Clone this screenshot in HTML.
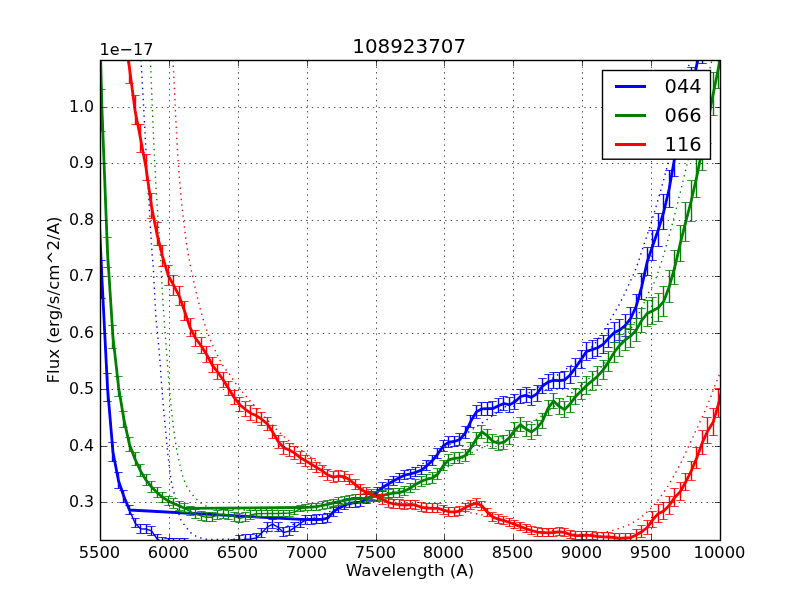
<!DOCTYPE html>
<html lang="en"><head><meta charset="utf-8"><title>108923707</title>
<style>
html,body{margin:0;padding:0;background:#fff;}
body{width:800px;height:600px;overflow:hidden;}
svg{display:block;}
text{font-family:"DejaVu Sans","Liberation Sans",sans-serif;fill:#000;}
.t{font-size:16.67px;}
.big{font-size:19.9px;}.leg{font-size:19.44px;}
.grid{stroke:#000;stroke-width:0.7;stroke-dasharray:1.39 4.17;fill:none;}
.tick{stroke:#000;stroke-width:0.7;fill:none;}
.thin{fill:none;stroke-width:1.39;stroke-linejoin:round;}
.bar{fill:none;stroke-width:1.39;}
.cap{fill:none;stroke-width:1;stroke-opacity:0.8;}
.thick{fill:none;stroke-width:2.78;stroke-linejoin:round;stroke-linecap:butt;}
.dot{fill:none;stroke-width:1.39;stroke-dasharray:1.39 4.17;}
.b{stroke:#0000ff;}.g{stroke:#008000;}.r{stroke:#ff0000;}
</style></head><body>
<svg width="800" height="600" viewBox="0 0 800 600">
<rect x="0" y="0" width="800" height="600" fill="#ffffff"/>
<defs><clipPath id="ax"><rect x="100.5" y="60.5" width="620.0" height="480.0"/></clipPath></defs>
<g clip-path="url(#ax)">
<path class="thin b" d="M96.5 161.4 L102.0 279.5 L107.5 387.6 L113.0 452.3 L118.5 480.8 L124.0 496.9 L129.5 510.2 L135.0 523.0 L140.5 528.7 L146.0 529.0 L151.5 530.8 L157.0 538.8 L162.5 542.2 L168.1 542.6 L173.6 542.7 L179.1 542.9 L184.6 543.0 L190.1 544.7 L195.6 546.5 L201.1 548.0 L206.6 548.0 L212.1 548.0 L217.6 548.0 L223.1 548.0 L228.6 546.5 L234.1 544.2 L239.6 540.3 L245.2 539.5 L250.7 539.0 L256.2 538.0 L261.7 533.0 L267.2 527.1 L272.7 524.1 L278.2 527.4 L283.7 532.5 L289.2 531.1 L294.7 527.4 L300.2 523.5 L305.7 519.6 L311.2 519.5 L316.7 519.5 L322.3 519.4 L327.8 518.0 L333.3 511.9 L338.8 508.2 L344.3 505.4 L349.8 503.3 L355.3 502.5 L360.8 502.1 L366.3 499.3 L371.8 495.9 L377.3 491.8 L382.8 487.3 L388.3 484.0 L393.8 480.7 L399.3 477.7 L404.9 475.1 L410.4 473.9 L415.9 472.3 L421.4 470.1 L426.9 465.8 L432.4 460.6 L437.9 453.8 L443.4 445.8 L448.9 442.2 L454.4 441.5 L459.9 439.5 L465.4 432.8 L470.9 421.1 L476.4 411.9 L482.0 408.8 L487.5 408.7 L493.0 408.5 L498.5 405.7 L504.0 403.5 L509.5 404.9 L515.0 401.7 L520.5 396.5 L526.0 395.4 L531.5 397.4 L537.0 393.7 L542.5 386.0 L548.0 382.1 L553.5 380.3 L559.1 380.7 L564.6 380.0 L570.1 374.9 L575.6 367.6 L581.1 359.4 L586.6 351.4 L592.1 349.6 L597.6 347.8 L603.1 344.4 L608.6 338.3 L614.1 332.7 L619.6 330.1 L625.1 325.7 L630.6 318.5 L636.1 306.5 L641.7 286.8 L647.2 261.7 L652.7 245.7 L658.2 230.0 L663.7 212.0 L669.2 188.8 L674.7 157.6 L680.2 134.5 L685.7 111.5 L691.2 88.4 L696.7 65.3 L702.2 41.9 L707.7 18.3 L713.2 -5.4 L718.8 -29.4 L724.3 -53.3 L729.8 -77.3"/>
<path class="bar b" d="M96.5 142.4V180.4M101.5 260.5V298.5M107.5 373.5V401.6M112.5 443.0V461.7M118.5 472.8V488.8M123.5 490.9V502.9M129.5 505.6V514.9M135.5 518.5V527.5M140.5 524.2V533.2M146.5 524.5V533.5M151.5 526.3V535.3M157.5 534.3V543.3M162.5 537.7V546.7M168.5 538.1V547.1M173.5 538.2V547.2M179.5 538.4V547.4M184.5 538.5V547.5M190.5 540.2V549.2M195.5 542.0V551.0M201.5 543.5V552.5M206.5 543.5V552.5M212.5 543.5V552.5M217.5 543.5V552.5M223.5 543.5V552.5M228.5 542.0V551.0M234.5 539.7V548.7M239.5 535.8V544.8M245.5 535.0V544.0M250.5 534.5V543.5M256.5 533.5V542.5M261.5 528.5V537.5M267.5 522.6V531.6M272.5 519.6V528.6M278.5 522.9V531.9M283.5 528.0V537.0M289.5 526.6V535.6M294.5 522.9V531.9M300.5 519.0V528.0M305.5 515.1V524.1M311.5 515.0V524.0M316.5 515.0V524.0M322.5 514.9V523.9M327.5 513.5V522.5M333.5 507.4V516.4M338.5 503.7V512.7M344.5 500.9V509.9M349.5 498.8V507.8M355.5 498.0V507.0M360.5 497.6V506.6M366.5 494.8V503.9M371.5 491.3V500.4M377.5 487.3V496.4M382.5 482.7V491.9M388.5 479.4V488.6M393.5 476.1V485.3M399.5 473.1V482.3M404.5 470.5V479.7M410.5 469.3V478.5M415.5 467.6V476.9M421.5 465.4V474.9M426.5 460.9V470.7M432.5 455.6V465.6M437.5 448.7V458.9M443.5 440.6V451.0M448.5 436.9V447.6M454.5 436.1V446.9M459.5 433.8V445.1M465.5 427.0V438.6M470.5 415.1V427.2M476.5 405.7V418.1M481.5 402.4V415.1M487.5 402.2V415.3M492.5 401.8V415.3M498.5 398.8V412.7M503.5 396.4V410.6M509.5 397.7V412.1M514.5 394.4V409.0M520.5 389.1V404.0M526.5 387.8V402.9M531.5 389.8V405.1M537.5 385.9V401.5M542.5 378.1V393.9M548.5 374.0V390.1M553.5 372.2V388.5M559.5 372.5V389.0M564.5 371.6V388.4M570.5 366.4V383.4M575.5 358.9V376.2M581.5 350.6V368.2M586.5 342.5V360.3M592.5 340.5V358.6M597.5 338.6V357.0M603.5 335.1V353.7M608.5 328.9V347.8M614.5 322.8V342.6M619.5 319.7V340.6M625.5 314.8V336.7M630.5 307.0V330.0M636.5 294.5V318.5M641.5 273.9V299.8M647.5 247.9V275.6M652.5 230.6V260.8M658.5 213.6V246.4M663.5 194.3V229.7M669.5 170.3V207.3M674.5 138.5V176.7M680.5 114.8V154.3M685.5 91.1V131.8M691.5 67.4V109.4M696.5 43.7V87.0M702.5 19.7V64.0M707.5 -4.1V40.6M713.5 -28.1V17.2M718.5 -52.3V-6.4M724.5 -76.5V-30.1M729.5 -100.7V-53.8"/>
<path class="cap b" d="M92.3 142.5h8.4M92.3 180.5h8.4M97.3 260.5h8.4M97.3 298.5h8.4M103.3 373.5h8.4M103.3 401.5h8.4M108.3 442.5h8.4M108.3 461.5h8.4M114.3 472.5h8.4M114.3 488.5h8.4M119.3 490.5h8.4M119.3 502.5h8.4M125.3 505.5h8.4M125.3 514.5h8.4M131.3 518.5h8.4M131.3 527.5h8.4M136.3 524.5h8.4M136.3 533.5h8.4M142.3 524.5h8.4M142.3 533.5h8.4M147.3 526.5h8.4M147.3 535.5h8.4M153.3 534.5h8.4M153.3 543.5h8.4M158.3 537.5h8.4M158.3 546.5h8.4M164.3 538.5h8.4M164.3 547.5h8.4M169.3 538.5h8.4M169.3 547.5h8.4M175.3 538.5h8.4M175.3 547.5h8.4M180.3 538.5h8.4M180.3 547.5h8.4M186.3 540.5h8.4M186.3 549.5h8.4M191.3 542.5h8.4M191.3 551.5h8.4M197.3 543.5h8.4M197.3 552.5h8.4M202.3 543.5h8.4M202.3 552.5h8.4M208.3 543.5h8.4M208.3 552.5h8.4M213.3 543.5h8.4M213.3 552.5h8.4M219.3 543.5h8.4M219.3 552.5h8.4M224.3 541.5h8.4M224.3 550.5h8.4M230.3 539.5h8.4M230.3 548.5h8.4M235.3 535.5h8.4M235.3 544.5h8.4M241.3 534.5h8.4M241.3 543.5h8.4M246.3 534.5h8.4M246.3 543.5h8.4M252.3 533.5h8.4M252.3 542.5h8.4M257.3 528.5h8.4M257.3 537.5h8.4M263.3 522.5h8.4M263.3 531.5h8.4M268.3 519.5h8.4M268.3 528.5h8.4M274.3 522.5h8.4M274.3 531.5h8.4M279.3 527.5h8.4M279.3 536.5h8.4M285.3 526.5h8.4M285.3 535.5h8.4M290.3 522.5h8.4M290.3 531.5h8.4M296.3 518.5h8.4M296.3 527.5h8.4M301.3 515.5h8.4M301.3 524.5h8.4M307.3 515.5h8.4M307.3 524.5h8.4M312.3 514.5h8.4M312.3 523.5h8.4M318.3 514.5h8.4M318.3 523.5h8.4M323.3 513.5h8.4M323.3 522.5h8.4M329.3 507.5h8.4M329.3 516.5h8.4M334.3 503.5h8.4M334.3 512.5h8.4M340.3 500.5h8.4M340.3 509.5h8.4M345.3 498.5h8.4M345.3 507.5h8.4M351.3 497.5h8.4M351.3 507.5h8.4M356.3 497.5h8.4M356.3 506.5h8.4M362.3 494.5h8.4M362.3 503.5h8.4M367.3 491.5h8.4M367.3 500.5h8.4M373.3 487.5h8.4M373.3 496.5h8.4M378.3 482.5h8.4M378.3 491.5h8.4M384.3 479.5h8.4M384.3 488.5h8.4M389.3 476.5h8.4M389.3 485.5h8.4M395.3 473.5h8.4M395.3 482.5h8.4M400.3 470.5h8.4M400.3 479.5h8.4M406.3 469.5h8.4M406.3 478.5h8.4M411.3 467.5h8.4M411.3 476.5h8.4M417.3 465.5h8.4M417.3 474.5h8.4M422.3 460.5h8.4M422.3 470.5h8.4M428.3 455.5h8.4M428.3 465.5h8.4M433.3 448.5h8.4M433.3 458.5h8.4M439.3 440.5h8.4M439.3 451.5h8.4M444.3 436.5h8.4M444.3 447.5h8.4M450.3 436.5h8.4M450.3 446.5h8.4M455.3 433.5h8.4M455.3 445.5h8.4M461.3 426.5h8.4M461.3 438.5h8.4M466.3 415.5h8.4M466.3 427.5h8.4M472.3 405.5h8.4M472.3 418.5h8.4M477.3 402.5h8.4M477.3 415.5h8.4M483.3 402.5h8.4M483.3 415.5h8.4M488.3 401.5h8.4M488.3 415.5h8.4M494.3 398.5h8.4M494.3 412.5h8.4M499.3 396.5h8.4M499.3 410.5h8.4M505.3 397.5h8.4M505.3 412.5h8.4M510.3 394.5h8.4M510.3 409.5h8.4M516.3 389.5h8.4M516.3 403.5h8.4M522.3 387.5h8.4M522.3 402.5h8.4M527.3 389.5h8.4M527.3 405.5h8.4M533.3 385.5h8.4M533.3 401.5h8.4M538.3 378.5h8.4M538.3 393.5h8.4M544.3 374.5h8.4M544.3 390.5h8.4M549.3 372.5h8.4M549.3 388.5h8.4M555.3 372.5h8.4M555.3 388.5h8.4M560.3 371.5h8.4M560.3 388.5h8.4M566.3 366.5h8.4M566.3 383.5h8.4M571.3 358.5h8.4M571.3 376.5h8.4M577.3 350.5h8.4M577.3 368.5h8.4M582.3 342.5h8.4M582.3 360.5h8.4M588.3 340.5h8.4M588.3 358.5h8.4M593.3 338.5h8.4M593.3 356.5h8.4M599.3 335.5h8.4M599.3 353.5h8.4M604.3 328.5h8.4M604.3 347.5h8.4M610.3 322.5h8.4M610.3 342.5h8.4M615.3 319.5h8.4M615.3 340.5h8.4M621.3 314.5h8.4M621.3 336.5h8.4M626.3 307.5h8.4M626.3 329.5h8.4M632.3 294.5h8.4M632.3 318.5h8.4M637.3 273.5h8.4M637.3 299.5h8.4M643.3 247.5h8.4M643.3 275.5h8.4M648.3 230.5h8.4M648.3 260.5h8.4M654.3 213.5h8.4M654.3 246.5h8.4M659.3 194.5h8.4M659.3 229.5h8.4M665.3 170.5h8.4M665.3 207.5h8.4M670.3 138.5h8.4M670.3 176.5h8.4M676.3 114.5h8.4M676.3 154.5h8.4M681.3 91.5h8.4M681.3 131.5h8.4M687.3 67.5h8.4M687.3 109.5h8.4M692.3 43.5h8.4M692.3 86.5h8.4M698.3 19.5h8.4M698.3 63.5h8.4M703.3 -4.5h8.4M703.3 40.5h8.4M709.3 -28.5h8.4M709.3 17.5h8.4M714.3 -52.5h8.4M714.3 -6.5h8.4M720.3 -76.5h8.4M720.3 -30.5h8.4M725.3 -100.5h8.4M725.3 -53.5h8.4"/>
<path class="thick b" d="M96.5 161.4 L102.0 279.5 L107.5 387.6 L113.0 452.3 L118.5 480.8 L124.0 496.9 L129.5 510.0 L305.7 519.6 L311.2 519.5 L316.7 519.5 L322.3 519.4 L327.8 518.0 L333.3 511.9 L338.8 508.2 L344.3 505.4 L349.8 503.3 L355.3 502.5 L360.8 502.1 L366.3 499.3 L371.8 495.9 L377.3 491.8 L382.8 487.3 L388.3 484.0 L393.8 480.7 L399.3 477.7 L404.9 475.1 L410.4 473.9 L415.9 472.3 L421.4 470.1 L426.9 465.8 L432.4 460.6 L437.9 453.8 L443.4 445.8 L448.9 442.2 L454.4 441.5 L459.9 439.5 L465.4 432.8 L470.9 421.1 L476.4 411.9 L482.0 408.8 L487.5 408.7 L493.0 408.5 L498.5 405.7 L504.0 403.5 L509.5 404.9 L515.0 401.7 L520.5 396.5 L526.0 395.4 L531.5 397.4 L537.0 393.7 L542.5 386.0 L548.0 382.1 L553.5 380.3 L559.1 380.7 L564.6 380.0 L570.1 374.9 L575.6 367.6 L581.1 359.4 L586.6 351.4 L592.1 349.6 L597.6 347.8 L603.1 344.4 L608.6 338.3 L614.1 332.7 L619.6 330.1 L625.1 325.7 L630.6 318.5 L636.1 306.5 L641.7 286.8 L647.2 261.7 L652.7 245.7 L658.2 230.0 L663.7 212.0 L669.2 188.8 L674.7 157.6 L680.2 134.5 L685.7 111.5 L691.2 88.4 L696.7 65.3 L702.2 41.9 L707.7 18.3 L713.2 -5.4 L718.8 -29.4 L724.3 -53.3 L729.8 -77.3"/>
<path class="dot b" d="M141.0 60.0 L142.4 84.9 L143.8 110.0 L145.1 134.9 L146.5 159.3 L147.9 183.4 L149.3 207.6 L150.6 230.8 L152.0 252.1 L153.4 269.5 L154.8 297.5 L156.1 320.1 L157.5 332.5 L158.9 348.1 L160.3 366.0 L161.6 385.3 L163.0 402.3 L164.4 418.0 L165.8 432.7 L167.1 446.4 L168.5 459.9 L169.9 472.3 L171.3 481.5 L172.6 487.7 L174.0 493.0 L175.4 498.9 L176.8 505.6 L178.2 511.2 L179.5 516.1 L180.9 519.8 L182.3 522.2 L183.7 524.0 L185.0 525.9 L186.4 527.6 L187.8 529.3 L189.2 531.1 L190.5 532.6 L191.9 533.7 L193.3 534.7 L194.7 535.5 L196.0 536.2 L197.4 536.8 L198.8 537.3 L200.2 537.8 L201.5 538.1 L202.9 538.4 L204.3 538.7 L205.7 539.0 L207.0 539.2 L208.4 539.3 L209.8 539.4 L211.2 539.4 L212.5 539.4 L213.9 539.4 L215.3 539.4 L216.7 539.4 L218.1 539.4 L219.4 539.3 L220.8 539.3 L222.2 539.3 L223.6 539.3 L224.9 539.3 L226.3 539.2 L227.7 539.2 L229.1 539.2 L230.4 539.2 L231.8 539.1 L233.2 539.1 L234.6 539.1 L235.9 539.0 L237.3 539.0 L238.7 538.9 L240.1 538.8 L241.4 538.7 L242.8 538.5 L244.2 538.3 L245.6 538.1 L246.9 537.8 L248.3 537.5 L249.7 537.2 L251.1 536.9 L252.5 536.6 L253.8 536.2 L255.2 535.9 L256.6 535.5 L258.0 535.1 L259.3 534.7 L260.7 534.3 L262.1 534.0 L263.5 533.6 L264.8 533.2 L266.2 532.8 L267.6 532.5 L269.0 532.1 L270.3 531.7 L271.7 531.4 L273.1 531.0 L274.5 530.6 L275.8 530.1 L277.2 529.7 L278.6 529.3 L280.0 528.8 L281.3 528.4 L282.7 527.9 L284.1 527.5 L285.5 527.0 L286.8 526.5 L288.2 526.0 L289.6 525.6 L291.0 525.1 L292.4 524.6 L293.7 524.1 L295.1 523.7 L296.5 523.2 L297.9 522.7 L299.2 522.3 L300.6 521.8 L302.0 521.3 L303.4 520.9 L304.7 520.4 L306.1 519.9 L307.5 519.5 L308.9 519.0 L310.2 518.5 L311.6 518.0 L313.0 517.5 L314.4 517.1 L315.7 516.6 L317.1 516.1 L318.5 515.6 L319.9 515.1 L321.2 514.6 L322.6 514.1 L324.0 513.7 L325.4 513.2 L326.8 512.7 L328.1 512.2 L329.5 511.7 L330.9 511.2 L332.3 510.7 L333.6 510.2 L335.0 509.8 L336.4 509.3 L337.8 508.8 L339.1 508.3 L340.5 507.8 L341.9 507.4 L343.3 506.9 L344.6 506.5 L346.0 506.0 L347.4 505.6 L348.8 505.1 L350.1 504.7 L351.5 504.2 L352.9 503.8 L354.3 503.3 L355.6 502.8 L357.0 502.2 L358.4 501.7 L359.8 501.1 L361.2 500.5 L362.5 499.8 L363.9 499.1 L365.3 498.3 L366.7 497.5 L368.0 496.7 L369.4 495.8 L370.8 494.9 L372.2 494.0 L373.5 493.1 L374.9 492.2 L376.3 491.3 L377.7 490.5 L379.0 489.6 L380.4 488.7 L381.8 487.9 L383.2 487.1 L384.5 486.3 L385.9 485.4 L387.3 484.6 L388.7 483.8 L390.0 482.9 L391.4 482.1 L392.8 481.3 L394.2 480.4 L395.5 479.5 L396.9 478.6 L398.3 477.7 L399.7 476.7 L401.1 475.7 L402.4 474.6 L403.8 473.5 L405.2 472.3 L406.6 471.2 L407.9 470.2 L409.3 469.3 L410.7 468.6 L412.1 467.9 L413.4 467.2 L414.8 466.7 L416.2 466.1 L417.6 465.6 L418.9 465.0 L420.3 464.5 L421.7 464.0 L423.1 463.4 L424.4 462.8 L425.8 462.2 L427.2 461.4 L428.6 460.7 L429.9 459.8 L431.3 458.8 L432.7 457.8 L434.1 456.8 L435.5 455.6 L436.8 454.5 L438.2 453.3 L439.6 452.1 L441.0 451.0 L442.3 449.8 L443.7 448.7 L445.1 447.7 L446.5 446.7 L447.8 445.7 L449.2 444.7 L450.6 443.8 L452.0 442.9 L453.3 441.9 L454.7 441.0 L456.1 440.1 L457.5 439.2 L458.8 438.3 L460.2 437.4 L461.6 436.5 L463.0 435.7 L464.3 434.8 L465.7 433.9 L467.1 433.0 L468.5 432.1 L469.8 431.1 L471.2 430.2 L472.6 429.3 L474.0 428.4 L475.4 427.5 L476.7 426.6 L478.1 425.6 L479.5 424.7 L480.9 423.8 L482.2 422.9 L483.6 421.9 L485.0 421.0 L486.4 420.1 L487.7 419.1 L489.1 418.1 L490.5 417.2 L491.9 416.2 L493.2 415.2 L494.6 414.2 L496.0 413.2 L497.4 412.2 L498.7 411.3 L500.1 410.3 L501.5 409.3 L502.9 408.4 L504.2 407.5 L505.6 406.6 L507.0 405.7 L508.4 404.8 L509.8 404.0 L511.1 403.1 L512.5 402.3 L513.9 401.5 L515.3 400.7 L516.6 399.9 L518.0 399.1 L519.4 398.3 L520.8 397.5 L522.1 396.7 L523.5 395.9 L524.9 395.1 L526.3 394.3 L527.6 393.6 L529.0 392.8 L530.4 392.0 L531.8 391.2 L533.1 390.4 L534.5 389.6 L535.9 388.8 L537.3 388.0 L538.6 387.2 L540.0 386.4 L541.4 385.5 L542.8 384.7 L544.2 383.8 L545.5 382.9 L546.9 382.1 L548.3 381.2 L549.7 380.2 L551.0 379.3 L552.4 378.4 L553.8 377.4 L555.2 376.5 L556.5 375.6 L557.9 374.7 L559.3 373.7 L560.7 372.8 L562.0 371.9 L563.4 370.9 L564.8 370.0 L566.2 369.0 L567.5 368.0 L568.9 367.0 L570.3 366.0 L571.7 365.0 L573.0 363.9 L574.4 362.9 L575.8 361.8 L577.2 360.7 L578.5 359.5 L579.9 358.4 L581.3 357.2 L582.7 356.0 L584.1 354.7 L585.4 353.5 L586.8 352.2 L588.2 350.8 L589.6 349.5 L590.9 348.0 L592.3 346.5 L593.7 344.9 L595.1 343.2 L596.4 341.4 L597.8 339.5 L599.2 337.6 L600.6 335.6 L601.9 333.6 L603.3 331.5 L604.7 329.5 L606.1 327.3 L607.4 325.0 L608.8 322.6 L610.2 320.2 L611.6 317.7 L612.9 315.4 L614.3 313.0 L615.7 310.7 L617.1 308.3 L618.5 305.9 L619.8 303.3 L621.2 300.7 L622.6 297.9 L624.0 295.0 L625.3 292.1 L626.7 289.1 L628.1 286.1 L629.5 283.1 L630.8 280.2 L632.2 277.2 L633.6 274.1 L635.0 270.9 L636.3 267.5 L637.7 263.8 L639.1 259.8 L640.5 255.5 L641.8 251.1 L643.2 246.8 L644.6 242.6 L646.0 238.6 L647.3 234.5 L648.7 230.4 L650.1 226.2 L651.5 221.8 L652.8 217.3 L654.2 212.8 L655.6 208.1 L657.0 203.4 L658.4 198.7 L659.7 193.9 L661.1 189.0 L662.5 184.0 L663.9 179.0 L665.2 173.9 L666.6 168.7 L668.0 163.3 L669.4 157.5 L670.7 151.6 L672.1 145.5 L673.5 139.3 L674.9 132.9 L676.2 126.5 L677.6 119.9 L679.0 113.3 L680.4 106.6 L681.7 99.9 L683.1 93.2 L684.5 86.4 L685.9 79.7 L687.2 73.1 L688.6 66.5 L690.0 60.0"/>
<path class="thin g" d="M96.5 -97.6 L102.0 110.0 L107.5 252.1 L113.0 337.1 L118.5 386.7 L124.0 419.9 L129.5 444.6 L135.0 459.0 L140.5 470.9 L146.0 480.0 L151.5 486.9 L157.0 492.5 L162.5 497.1 L168.1 500.9 L173.6 503.4 L179.1 505.8 L184.6 508.3 L190.1 511.3 L195.6 514.2 L201.1 515.8 L206.6 517.3 L212.1 517.2 L217.6 515.1 L223.1 514.2 L228.6 515.3 L234.1 516.7 L239.6 518.3 L245.2 517.1 L250.7 515.0 L256.2 513.7 L261.7 513.6 L267.2 513.5 L272.7 513.5 L278.2 513.5 L283.7 513.3 L289.2 513.1 L294.7 511.9 L300.2 508.9 L305.7 507.4 L311.2 507.2 L316.7 506.6 L322.3 505.5 L327.8 504.3 L333.3 502.9 L338.8 501.6 L344.3 500.4 L349.8 499.3 L355.3 498.7 L360.8 498.6 L366.3 498.2 L371.8 497.1 L377.3 496.0 L382.8 495.3 L388.3 494.2 L393.8 493.0 L399.3 492.6 L404.9 490.9 L410.4 488.0 L415.9 484.2 L421.4 481.3 L426.9 479.2 L432.4 478.0 L437.9 474.1 L443.4 465.6 L448.9 459.8 L454.4 458.4 L459.9 457.8 L465.4 455.4 L470.9 448.0 L476.4 438.8 L482.0 431.9 L487.5 435.9 L493.0 441.4 L498.5 443.3 L504.0 442.2 L509.5 437.6 L515.0 430.1 L520.5 424.6 L526.0 429.0 L531.5 432.0 L537.0 428.0 L542.5 421.2 L548.0 408.3 L553.5 401.0 L559.1 406.3 L564.6 409.6 L570.1 404.1 L575.6 396.4 L581.1 390.9 L586.6 385.4 L592.1 380.9 L597.6 376.2 L603.1 369.9 L608.6 361.9 L614.1 352.5 L619.6 345.4 L625.1 339.9 L630.6 336.1 L636.1 330.1 L641.7 320.5 L647.2 313.4 L652.7 310.7 L658.2 307.8 L663.7 301.4 L669.2 286.7 L674.7 267.5 L680.2 243.8 L685.7 222.0 L691.2 201.0 L696.7 177.0 L702.2 149.5 L707.7 121.8 L713.2 94.0 L718.8 66.3 L724.3 38.7 L729.8 11.2"/>
<path class="bar g" d="M96.5 -118.6V-76.6M101.5 89.0V131.0M107.5 237.0V267.2M112.5 325.4V348.9M118.5 376.9V396.4M123.5 411.9V427.9M129.5 437.5V451.7M135.5 452.5V465.5M140.5 464.9V476.8M146.5 474.3V485.7M151.5 481.5V492.3M157.5 487.4V497.7M162.5 492.2V502.1M168.5 496.1V505.8M173.5 498.7V508.1M179.5 501.2V510.5M184.5 503.8V512.8M190.5 506.8V515.8M195.5 509.7V518.7M201.5 511.3V520.3M206.5 512.8V521.8M212.5 512.7V521.7M217.5 510.6V519.6M223.5 509.7V518.7M228.5 510.8V519.8M234.5 512.2V521.2M239.5 513.8V522.8M245.5 512.6V521.6M250.5 510.6V519.3M256.5 510.4V517.0M261.5 510.6V516.6M267.5 510.5V516.5M272.5 510.5V516.5M278.5 510.5V516.5M283.5 510.3V516.3M289.5 510.1V516.1M294.5 508.9V514.9M300.5 505.9V512.0M305.5 504.2V510.5M311.5 503.9V510.4M316.5 503.2V510.1M322.5 501.9V509.0M327.5 500.6V508.0M333.5 499.1V506.8M338.5 497.6V505.5M344.5 496.4V504.4M349.5 495.2V503.4M355.5 494.5V502.8M360.5 494.4V502.8M366.5 494.0V502.5M371.5 492.8V501.5M377.5 491.7V500.4M382.5 490.9V499.7M388.5 489.7V498.7M393.5 488.4V497.5M399.5 488.0V497.2M404.5 486.2V495.6M410.5 483.3V492.8M415.5 479.4V489.0M421.5 476.4V486.2M426.5 474.2V484.2M432.5 472.9V483.1M437.5 469.0V479.3M443.5 460.4V470.9M448.5 454.5V465.2M454.5 453.0V463.9M459.5 452.2V463.5M465.5 449.5V461.2M470.5 442.0V454.0M476.5 432.6V445.0M481.5 425.5V438.3M487.5 429.3V442.5M492.5 434.7V448.2M498.5 436.4V450.2M503.5 435.1V449.2M509.5 430.4V444.7M514.5 422.8V437.3M520.5 417.3V431.9M526.5 421.7V436.4M531.5 424.5V439.4M537.5 420.4V435.5M542.5 413.6V428.8M548.5 400.6V416.0M553.5 393.3V408.8M559.5 398.5V414.2M564.5 401.7V417.6M570.5 396.1V412.1M575.5 388.1V404.7M581.5 382.3V399.5M586.5 376.5V394.3M592.5 371.7V390.1M597.5 366.7V385.7M603.5 360.1V379.6M608.5 351.9V371.9M614.5 342.2V362.9M619.5 334.7V356.0M625.5 328.9V350.9M630.5 324.8V347.4M636.5 318.3V341.8M641.5 308.2V332.8M647.5 300.5V326.3M652.5 297.2V324.1M658.5 293.8V321.8M663.5 286.3V316.4M669.5 270.6V302.8M674.5 250.4V284.6M680.5 225.6V261.9M685.5 202.8V241.2M691.5 180.9V221.1M696.5 156.4V197.5M702.5 128.6V170.5M707.5 100.4V143.2M713.5 72.2V115.9M718.5 44.0V88.6M724.5 16.0V61.4M729.5 -12.0V34.3"/>
<path class="cap g" d="M92.3 -118.5h8.4M92.3 -76.5h8.4M97.3 89.5h8.4M97.3 131.5h8.4M103.3 237.5h8.4M103.3 267.5h8.4M108.3 325.5h8.4M108.3 348.5h8.4M114.3 376.5h8.4M114.3 396.5h8.4M119.3 411.5h8.4M119.3 427.5h8.4M125.3 437.5h8.4M125.3 451.5h8.4M131.3 452.5h8.4M131.3 465.5h8.4M136.3 464.5h8.4M136.3 476.5h8.4M142.3 474.5h8.4M142.3 485.5h8.4M147.3 481.5h8.4M147.3 492.5h8.4M153.3 487.5h8.4M153.3 497.5h8.4M158.3 492.5h8.4M158.3 502.5h8.4M164.3 496.5h8.4M164.3 505.5h8.4M169.3 498.5h8.4M169.3 508.5h8.4M175.3 501.5h8.4M175.3 510.5h8.4M180.3 503.5h8.4M180.3 512.5h8.4M186.3 506.5h8.4M186.3 515.5h8.4M191.3 509.5h8.4M191.3 518.5h8.4M197.3 511.5h8.4M197.3 520.5h8.4M202.3 512.5h8.4M202.3 521.5h8.4M208.3 512.5h8.4M208.3 521.5h8.4M213.3 510.5h8.4M213.3 519.5h8.4M219.3 509.5h8.4M219.3 518.5h8.4M224.3 510.5h8.4M224.3 519.5h8.4M230.3 512.5h8.4M230.3 521.5h8.4M235.3 513.5h8.4M235.3 522.5h8.4M241.3 512.5h8.4M241.3 521.5h8.4M246.3 510.5h8.4M246.3 519.5h8.4M252.3 510.5h8.4M252.3 517.5h8.4M257.3 510.5h8.4M257.3 516.5h8.4M263.3 510.5h8.4M263.3 516.5h8.4M268.3 510.5h8.4M268.3 516.5h8.4M274.3 510.5h8.4M274.3 516.5h8.4M279.3 510.5h8.4M279.3 516.5h8.4M285.3 510.5h8.4M285.3 516.5h8.4M290.3 508.5h8.4M290.3 514.5h8.4M296.3 505.5h8.4M296.3 511.5h8.4M301.3 504.5h8.4M301.3 510.5h8.4M307.3 503.5h8.4M307.3 510.5h8.4M312.3 503.5h8.4M312.3 510.5h8.4M318.3 501.5h8.4M318.3 509.5h8.4M323.3 500.5h8.4M323.3 508.5h8.4M329.3 499.5h8.4M329.3 506.5h8.4M334.3 497.5h8.4M334.3 505.5h8.4M340.3 496.5h8.4M340.3 504.5h8.4M345.3 495.5h8.4M345.3 503.5h8.4M351.3 494.5h8.4M351.3 502.5h8.4M356.3 494.5h8.4M356.3 502.5h8.4M362.3 493.5h8.4M362.3 502.5h8.4M367.3 492.5h8.4M367.3 501.5h8.4M373.3 491.5h8.4M373.3 500.5h8.4M378.3 490.5h8.4M378.3 499.5h8.4M384.3 489.5h8.4M384.3 498.5h8.4M389.3 488.5h8.4M389.3 497.5h8.4M395.3 488.5h8.4M395.3 497.5h8.4M400.3 486.5h8.4M400.3 495.5h8.4M406.3 483.5h8.4M406.3 492.5h8.4M411.3 479.5h8.4M411.3 489.5h8.4M417.3 476.5h8.4M417.3 486.5h8.4M422.3 474.5h8.4M422.3 484.5h8.4M428.3 472.5h8.4M428.3 483.5h8.4M433.3 468.5h8.4M433.3 479.5h8.4M439.3 460.5h8.4M439.3 470.5h8.4M444.3 454.5h8.4M444.3 465.5h8.4M450.3 452.5h8.4M450.3 463.5h8.4M455.3 452.5h8.4M455.3 463.5h8.4M461.3 449.5h8.4M461.3 461.5h8.4M466.3 442.5h8.4M466.3 454.5h8.4M472.3 432.5h8.4M472.3 445.5h8.4M477.3 425.5h8.4M477.3 438.5h8.4M483.3 429.5h8.4M483.3 442.5h8.4M488.3 434.5h8.4M488.3 448.5h8.4M494.3 436.5h8.4M494.3 450.5h8.4M499.3 435.5h8.4M499.3 449.5h8.4M505.3 430.5h8.4M505.3 444.5h8.4M510.3 422.5h8.4M510.3 437.5h8.4M516.3 417.5h8.4M516.3 431.5h8.4M522.3 421.5h8.4M522.3 436.5h8.4M527.3 424.5h8.4M527.3 439.5h8.4M533.3 420.5h8.4M533.3 435.5h8.4M538.3 413.5h8.4M538.3 428.5h8.4M544.3 400.5h8.4M544.3 415.5h8.4M549.3 393.5h8.4M549.3 408.5h8.4M555.3 398.5h8.4M555.3 414.5h8.4M560.3 401.5h8.4M560.3 417.5h8.4M566.3 396.5h8.4M566.3 412.5h8.4M571.3 388.5h8.4M571.3 404.5h8.4M577.3 382.5h8.4M577.3 399.5h8.4M582.3 376.5h8.4M582.3 394.5h8.4M588.3 371.5h8.4M588.3 390.5h8.4M593.3 366.5h8.4M593.3 385.5h8.4M599.3 360.5h8.4M599.3 379.5h8.4M604.3 351.5h8.4M604.3 371.5h8.4M610.3 342.5h8.4M610.3 362.5h8.4M615.3 334.5h8.4M615.3 356.5h8.4M621.3 328.5h8.4M621.3 350.5h8.4M626.3 324.5h8.4M626.3 347.5h8.4M632.3 318.5h8.4M632.3 341.5h8.4M637.3 308.5h8.4M637.3 332.5h8.4M643.3 300.5h8.4M643.3 326.5h8.4M648.3 297.5h8.4M648.3 324.5h8.4M654.3 293.5h8.4M654.3 321.5h8.4M659.3 286.5h8.4M659.3 316.5h8.4M665.3 270.5h8.4M665.3 302.5h8.4M670.3 250.5h8.4M670.3 284.5h8.4M676.3 225.5h8.4M676.3 261.5h8.4M681.3 202.5h8.4M681.3 241.5h8.4M687.3 180.5h8.4M687.3 221.5h8.4M692.3 156.5h8.4M692.3 197.5h8.4M698.3 128.5h8.4M698.3 170.5h8.4M703.3 100.5h8.4M703.3 143.5h8.4M709.3 72.5h8.4M709.3 115.5h8.4M714.3 43.5h8.4M714.3 88.5h8.4M720.3 15.5h8.4M720.3 61.5h8.4M725.3 -12.5h8.4M725.3 34.5h8.4"/>
<path class="thick g" d="M96.5 -97.6 L102.0 110.0 L107.5 252.1 L113.0 337.1 L118.5 386.7 L124.0 419.9 L129.5 444.6 L135.0 459.0 L140.5 470.9 L146.0 480.0 L151.5 486.9 L157.0 492.5 L162.5 497.1 L168.1 500.9 L173.6 503.4 L179.1 505.8 L184.6 508.3 L300.2 507.5 L305.7 507.4 L311.2 507.2 L316.7 506.6 L322.3 505.5 L327.8 504.3 L333.3 502.9 L338.8 501.6 L344.3 500.4 L349.8 499.3 L355.3 498.7 L360.8 498.6 L366.3 498.2 L371.8 497.1 L377.3 496.0 L382.8 495.3 L388.3 494.2 L393.8 493.0 L399.3 492.6 L404.9 490.9 L410.4 488.0 L415.9 484.2 L421.4 481.3 L426.9 479.2 L432.4 478.0 L437.9 474.1 L443.4 465.6 L448.9 459.8 L454.4 458.4 L459.9 457.8 L465.4 455.4 L470.9 448.0 L476.4 438.8 L482.0 431.9 L487.5 435.9 L493.0 441.4 L498.5 443.3 L504.0 442.2 L509.5 437.6 L515.0 430.1 L520.5 424.6 L526.0 429.0 L531.5 432.0 L537.0 428.0 L542.5 421.2 L548.0 408.3 L553.5 401.0 L559.1 406.3 L564.6 409.6 L570.1 404.1 L575.6 396.4 L581.1 390.9 L586.6 385.4 L592.1 380.9 L597.6 376.2 L603.1 369.9 L608.6 361.9 L614.1 352.5 L619.6 345.4 L625.1 339.9 L630.6 336.1 L636.1 330.1 L641.7 320.5 L647.2 313.4 L652.7 310.7 L658.2 307.8 L663.7 301.4 L669.2 286.7 L674.7 267.5 L680.2 243.8 L685.7 222.0 L691.2 201.0 L696.7 177.0 L702.2 149.5 L707.7 121.8 L713.2 94.0 L718.8 66.3 L724.3 38.7 L729.8 11.2"/>
<path class="dot g" d="M150.4 60.0 L151.8 94.3 L153.2 128.9 L154.6 160.5 L156.0 186.5 L157.4 208.8 L158.8 230.0 L160.3 253.0 L161.7 281.1 L163.1 304.6 L164.5 324.7 L165.9 343.2 L167.3 361.3 L168.7 380.5 L170.1 396.3 L171.5 410.2 L172.9 422.8 L174.3 434.0 L175.7 443.4 L177.1 451.5 L178.6 458.8 L180.0 465.4 L181.4 471.2 L182.8 476.3 L184.2 480.5 L185.6 483.9 L187.0 486.6 L188.4 489.0 L189.8 491.1 L191.2 493.1 L192.6 494.8 L194.0 496.5 L195.4 498.0 L196.8 499.4 L198.3 500.8 L199.7 502.0 L201.1 503.1 L202.5 504.0 L203.9 504.8 L205.3 505.6 L206.7 506.3 L208.1 507.0 L209.5 507.6 L210.9 508.1 L212.3 508.6 L213.7 508.9 L215.1 509.0 L216.6 509.1 L218.0 509.2 L219.4 509.2 L220.8 509.3 L222.2 509.4 L223.6 509.5 L225.0 509.5 L226.4 509.6 L227.8 509.6 L229.2 509.7 L230.6 509.7 L232.0 509.8 L233.4 509.8 L234.9 509.8 L236.3 509.9 L237.7 509.9 L239.1 509.9 L240.5 509.9 L241.9 510.0 L243.3 510.0 L244.7 510.0 L246.1 510.0 L247.5 510.0 L248.9 510.0 L250.3 510.0 L251.7 510.0 L253.1 510.0 L254.6 510.0 L256.0 509.9 L257.4 509.9 L258.8 509.9 L260.2 509.8 L261.6 509.8 L263.0 509.7 L264.4 509.7 L265.8 509.6 L267.2 509.5 L268.6 509.4 L270.0 509.4 L271.4 509.3 L272.9 509.2 L274.3 509.1 L275.7 509.0 L277.1 508.9 L278.5 508.8 L279.9 508.7 L281.3 508.6 L282.7 508.5 L284.1 508.4 L285.5 508.2 L286.9 508.1 L288.3 508.0 L289.7 507.9 L291.2 507.8 L292.6 507.7 L294.0 507.5 L295.4 507.4 L296.8 507.3 L298.2 507.2 L299.6 507.0 L301.0 506.9 L302.4 506.8 L303.8 506.6 L305.2 506.5 L306.6 506.3 L308.0 506.1 L309.4 506.0 L310.9 505.8 L312.3 505.6 L313.7 505.4 L315.1 505.2 L316.5 504.9 L317.9 504.7 L319.3 504.5 L320.7 504.3 L322.1 504.0 L323.5 503.8 L324.9 503.5 L326.3 503.3 L327.7 503.0 L329.2 502.8 L330.6 502.5 L332.0 502.3 L333.4 502.0 L334.8 501.7 L336.2 501.5 L337.6 501.2 L339.0 501.0 L340.4 500.7 L341.8 500.4 L343.2 500.2 L344.6 499.9 L346.0 499.7 L347.5 499.4 L348.9 499.2 L350.3 499.0 L351.7 498.7 L353.1 498.5 L354.5 498.3 L355.9 498.0 L357.3 497.8 L358.7 497.6 L360.1 497.4 L361.5 497.2 L362.9 496.9 L364.3 496.7 L365.8 496.5 L367.2 496.3 L368.6 496.1 L370.0 495.9 L371.4 495.6 L372.8 495.4 L374.2 495.2 L375.6 495.0 L377.0 494.7 L378.4 494.5 L379.8 494.3 L381.2 494.0 L382.6 493.8 L384.0 493.5 L385.5 493.2 L386.9 493.0 L388.3 492.7 L389.7 492.4 L391.1 492.1 L392.5 491.8 L393.9 491.5 L395.3 491.2 L396.7 490.8 L398.1 490.5 L399.5 490.1 L400.9 489.7 L402.3 489.3 L403.8 488.9 L405.2 488.5 L406.6 488.0 L408.0 487.5 L409.4 486.9 L410.8 486.4 L412.2 485.8 L413.6 485.2 L415.0 484.6 L416.4 484.0 L417.8 483.3 L419.2 482.7 L420.6 482.0 L422.1 481.4 L423.5 480.7 L424.9 480.1 L426.3 479.4 L427.7 478.7 L429.1 477.9 L430.5 477.2 L431.9 476.4 L433.3 475.6 L434.7 474.8 L436.1 473.9 L437.5 473.1 L438.9 472.2 L440.3 471.4 L441.8 470.5 L443.2 469.7 L444.6 468.8 L446.0 467.9 L447.4 467.1 L448.8 466.2 L450.2 465.4 L451.6 464.5 L453.0 463.7 L454.4 462.8 L455.8 462.0 L457.2 461.2 L458.6 460.3 L460.1 459.5 L461.5 458.7 L462.9 457.9 L464.3 457.1 L465.7 456.3 L467.1 455.5 L468.5 454.7 L469.9 453.9 L471.3 453.1 L472.7 452.4 L474.1 451.6 L475.5 450.9 L476.9 450.2 L478.4 449.5 L479.8 448.8 L481.2 448.1 L482.6 447.5 L484.0 446.9 L485.4 446.3 L486.8 445.8 L488.2 445.1 L489.6 444.4 L491.0 443.7 L492.4 443.0 L493.8 442.3 L495.2 441.5 L496.6 440.8 L498.1 440.0 L499.5 439.3 L500.9 438.5 L502.3 437.8 L503.7 437.1 L505.1 436.4 L506.5 435.7 L507.9 435.0 L509.3 434.3 L510.7 433.6 L512.1 432.9 L513.5 432.2 L514.9 431.5 L516.4 430.8 L517.8 430.1 L519.2 429.3 L520.6 428.6 L522.0 427.9 L523.4 427.1 L524.8 426.4 L526.2 425.6 L527.6 424.8 L529.0 424.0 L530.4 423.2 L531.8 422.4 L533.2 421.6 L534.7 420.7 L536.1 419.8 L537.5 418.9 L538.9 418.0 L540.3 417.0 L541.7 416.0 L543.1 415.0 L544.5 413.9 L545.9 412.9 L547.3 411.8 L548.7 410.7 L550.1 409.6 L551.5 408.5 L553.0 407.4 L554.4 406.3 L555.8 405.2 L557.2 404.2 L558.6 403.1 L560.0 402.0 L561.4 400.9 L562.8 399.9 L564.2 398.8 L565.6 397.7 L567.0 396.6 L568.4 395.5 L569.8 394.4 L571.2 393.3 L572.7 392.2 L574.1 391.1 L575.5 390.0 L576.9 388.8 L578.3 387.7 L579.7 386.5 L581.1 385.4 L582.5 384.2 L583.9 383.0 L585.3 381.8 L586.7 380.6 L588.1 379.3 L589.5 378.0 L591.0 376.8 L592.4 375.5 L593.8 374.1 L595.2 372.8 L596.6 371.4 L598.0 370.0 L599.4 368.6 L600.8 367.2 L602.2 365.7 L603.6 364.2 L605.0 362.7 L606.4 361.1 L607.8 359.6 L609.3 358.0 L610.7 356.3 L612.1 354.6 L613.5 352.9 L614.9 351.2 L616.3 349.4 L617.7 347.6 L619.1 345.7 L620.5 343.9 L621.9 341.9 L623.3 340.0 L624.7 337.9 L626.1 335.9 L627.5 333.8 L629.0 331.6 L630.4 329.4 L631.8 327.1 L633.2 324.7 L634.6 322.1 L636.0 319.4 L637.4 316.6 L638.8 313.8 L640.2 310.9 L641.6 308.0 L643.0 305.0 L644.4 302.1 L645.8 298.8 L647.3 295.6 L648.7 292.7 L650.1 290.4 L651.5 288.1 L652.9 285.4 L654.3 282.3 L655.7 278.8 L657.1 275.0 L658.5 271.0 L659.9 266.8 L661.3 262.5 L662.7 257.9 L664.1 253.2 L665.6 248.3 L667.0 243.3 L668.4 238.4 L669.8 233.3 L671.2 228.2 L672.6 222.9 L674.0 217.6 L675.4 212.2 L676.8 206.6 L678.2 200.9 L679.6 195.2 L681.0 189.5 L682.4 183.6 L683.8 177.7 L685.3 171.7 L686.7 165.8 L688.1 159.9 L689.5 154.0 L690.9 148.1 L692.3 142.2 L693.7 136.3 L695.1 130.4 L696.5 124.6 L697.9 118.7 L699.3 112.8 L700.7 107.0 L702.1 101.1 L703.6 95.2 L705.0 89.4 L706.4 83.5 L707.8 77.6 L709.2 71.7 L710.6 65.9 L712.0 60.0"/>
<path class="thin r" d="M96.5 -139.6 L102.0 -104.3 L107.5 -69.0 L113.0 -34.0 L118.5 -0.5 L124.0 33.0 L129.5 68.2 L135.0 110.2 L140.5 138.6 L146.0 167.7 L151.5 206.2 L157.0 234.2 L162.5 256.1 L168.1 275.1 L173.6 285.3 L179.1 295.6 L184.6 311.2 L190.1 327.7 L195.6 338.3 L201.1 345.8 L206.6 354.4 L212.1 364.8 L217.6 372.0 L223.1 379.8 L228.6 388.5 L234.1 397.4 L239.6 404.5 L245.2 409.3 L250.7 413.2 L256.2 415.6 L261.7 419.2 L267.2 423.9 L272.7 432.0 L278.2 441.6 L283.7 447.7 L289.2 450.0 L294.7 453.1 L300.2 457.6 L305.7 460.8 L311.2 464.2 L316.7 467.5 L322.3 470.9 L327.8 475.0 L333.3 477.1 L338.8 476.0 L344.3 476.8 L349.8 479.9 L355.3 484.7 L360.8 489.3 L366.3 492.5 L371.8 494.7 L377.3 496.7 L382.8 499.4 L388.3 502.5 L393.8 503.8 L399.3 504.5 L404.9 505.0 L410.4 504.5 L415.9 505.2 L421.4 507.4 L426.9 508.0 L432.4 508.3 L437.9 508.3 L443.4 510.1 L448.9 511.7 L454.4 512.2 L459.9 510.8 L465.4 507.5 L470.9 504.8 L476.4 503.1 L482.0 506.0 L487.5 512.4 L493.0 517.1 L498.5 519.2 L504.0 520.6 L509.5 522.5 L515.0 524.4 L520.5 526.6 L526.0 528.7 L531.5 530.5 L537.0 532.1 L542.5 532.5 L548.0 532.9 L553.5 532.5 L559.1 531.8 L564.6 532.4 L570.1 534.6 L575.6 535.6 L581.1 535.7 L586.6 535.1 L592.1 535.7 L597.6 536.5 L603.1 536.8 L608.6 537.0 L614.1 537.5 L619.6 538.3 L625.1 538.0 L630.6 537.7 L636.1 535.0 L641.7 531.7 L647.2 527.6 L652.7 519.9 L658.2 513.7 L663.7 511.0 L669.2 505.4 L674.7 497.5 L680.2 491.7 L685.7 482.0 L691.2 471.0 L696.7 458.0 L702.2 442.9 L707.7 430.9 L713.2 422.1 L718.8 403.0 L724.3 378.0 L729.8 353.4"/>
<path class="bar r" d="M96.5 -155.0V-124.2M101.5 -119.7V-88.9M107.5 -84.4V-53.6M112.5 -49.4V-18.6M118.5 -15.9V14.9M123.5 17.6V48.4M129.5 52.8V83.6M135.5 95.4V124.9M140.5 124.6V152.5M146.5 154.5V180.9M151.5 193.7V218.7M157.5 222.4V245.9M162.5 245.2V266.9M168.5 265.1V285.1M173.5 275.5V295.1M179.5 286.0V305.2M184.5 301.8V320.6M190.5 319.0V336.4M195.5 330.3V346.3M201.5 337.9V353.7M206.5 346.6V362.1M212.5 357.1V372.4M217.5 364.5V379.5M223.5 372.4V387.2M228.5 381.3V395.8M234.5 390.1V404.7M239.5 397.2V411.9M245.5 401.9V416.7M250.5 405.7V420.7M256.5 408.4V422.7M261.5 412.4V426.0M267.5 417.4V430.4M272.5 425.5V438.5M278.5 435.1V448.1M283.5 441.2V454.2M289.5 443.5V456.5M294.5 447.0V459.3M300.5 451.8V463.5M305.5 455.2V466.3M311.5 458.8V469.7M316.5 462.2V472.9M322.5 465.5V476.2M327.5 469.8V480.3M333.5 471.9V482.3M338.5 470.9V481.2M344.5 471.7V481.9M349.5 474.9V484.9M355.5 479.7V489.7M360.5 484.4V494.2M366.5 487.7V497.4M371.5 489.9V499.5M377.5 492.0V501.4M382.5 494.7V504.0M388.5 497.8V507.1M393.5 499.3V508.4M399.5 499.9V509.0M404.5 500.5V509.5M410.5 500.0V509.0M415.5 500.7V509.7M421.5 502.9V511.8M426.5 503.6V512.4M432.5 503.9V512.7M437.5 503.9V512.7M443.5 505.7V514.5M448.5 507.3V516.1M454.5 507.9V516.6M459.5 506.5V515.2M465.5 503.1V511.8M470.5 500.5V509.2M476.5 498.8V507.4M481.5 501.7V510.3M487.5 508.1V516.7M492.5 512.9V521.4M498.5 514.9V523.4M503.5 516.4V524.8M509.5 518.2V526.7M514.5 520.2V528.6M520.5 522.4V530.8M526.5 524.5V532.9M531.5 526.3V534.7M537.5 527.9V536.2M542.5 528.3V536.6M548.5 528.7V537.0M553.5 528.4V536.6M559.5 527.7V535.9M564.5 528.3V536.5M570.5 530.5V538.7M575.5 531.5V539.6M581.5 531.6V539.7M586.5 531.1V539.2M592.5 531.6V539.7M597.5 532.5V540.5M603.5 532.7V540.8M608.5 532.8V541.1M614.5 533.3V541.8M619.5 533.9V542.6M625.5 533.6V542.4M630.5 533.1V542.2M636.5 529.7V540.2M641.5 525.7V537.6M647.5 520.8V534.3M652.5 511.9V527.8M658.5 505.0V522.4M663.5 502.3V519.8M669.5 496.5V514.2M674.5 488.6V506.4M680.5 482.8V500.6M685.5 473.0V490.9M691.5 461.7V480.3M696.5 447.3V468.6M702.5 431.0V454.8M707.5 418.0V443.7M713.5 408.3V436.0M718.5 388.7V417.2M724.5 363.3V392.7M729.5 338.2V368.5"/>
<path class="cap r" d="M92.3 -154.5h8.4M92.3 -124.5h8.4M97.3 -119.5h8.4M97.3 -88.5h8.4M103.3 -84.5h8.4M103.3 -53.5h8.4M108.3 -49.5h8.4M108.3 -18.5h8.4M114.3 -15.5h8.4M114.3 14.5h8.4M119.3 17.5h8.4M119.3 48.5h8.4M125.3 52.5h8.4M125.3 83.5h8.4M131.3 95.5h8.4M131.3 124.5h8.4M136.3 124.5h8.4M136.3 152.5h8.4M142.3 154.5h8.4M142.3 180.5h8.4M147.3 193.5h8.4M147.3 218.5h8.4M153.3 222.5h8.4M153.3 245.5h8.4M158.3 245.5h8.4M158.3 266.5h8.4M164.3 265.5h8.4M164.3 285.5h8.4M169.3 275.5h8.4M169.3 295.5h8.4M175.3 286.5h8.4M175.3 305.5h8.4M180.3 301.5h8.4M180.3 320.5h8.4M186.3 318.5h8.4M186.3 336.5h8.4M191.3 330.5h8.4M191.3 346.5h8.4M197.3 337.5h8.4M197.3 353.5h8.4M202.3 346.5h8.4M202.3 362.5h8.4M208.3 357.5h8.4M208.3 372.5h8.4M213.3 364.5h8.4M213.3 379.5h8.4M219.3 372.5h8.4M219.3 387.5h8.4M224.3 381.5h8.4M224.3 395.5h8.4M230.3 390.5h8.4M230.3 404.5h8.4M235.3 397.5h8.4M235.3 411.5h8.4M241.3 401.5h8.4M241.3 416.5h8.4M246.3 405.5h8.4M246.3 420.5h8.4M252.3 408.5h8.4M252.3 422.5h8.4M257.3 412.5h8.4M257.3 425.5h8.4M263.3 417.5h8.4M263.3 430.5h8.4M268.3 425.5h8.4M268.3 438.5h8.4M274.3 435.5h8.4M274.3 448.5h8.4M279.3 441.5h8.4M279.3 454.5h8.4M285.3 443.5h8.4M285.3 456.5h8.4M290.3 446.5h8.4M290.3 459.5h8.4M296.3 451.5h8.4M296.3 463.5h8.4M301.3 455.5h8.4M301.3 466.5h8.4M307.3 458.5h8.4M307.3 469.5h8.4M312.3 462.5h8.4M312.3 472.5h8.4M318.3 465.5h8.4M318.3 476.5h8.4M323.3 469.5h8.4M323.3 480.5h8.4M329.3 471.5h8.4M329.3 482.5h8.4M334.3 470.5h8.4M334.3 481.5h8.4M340.3 471.5h8.4M340.3 481.5h8.4M345.3 474.5h8.4M345.3 484.5h8.4M351.3 479.5h8.4M351.3 489.5h8.4M356.3 484.5h8.4M356.3 494.5h8.4M362.3 487.5h8.4M362.3 497.5h8.4M367.3 489.5h8.4M367.3 499.5h8.4M373.3 491.5h8.4M373.3 501.5h8.4M378.3 494.5h8.4M378.3 504.5h8.4M384.3 497.5h8.4M384.3 507.5h8.4M389.3 499.5h8.4M389.3 508.5h8.4M395.3 499.5h8.4M395.3 508.5h8.4M400.3 500.5h8.4M400.3 509.5h8.4M406.3 500.5h8.4M406.3 508.5h8.4M411.3 500.5h8.4M411.3 509.5h8.4M417.3 502.5h8.4M417.3 511.5h8.4M422.3 503.5h8.4M422.3 512.5h8.4M428.3 503.5h8.4M428.3 512.5h8.4M433.3 503.5h8.4M433.3 512.5h8.4M439.3 505.5h8.4M439.3 514.5h8.4M444.3 507.5h8.4M444.3 516.5h8.4M450.3 507.5h8.4M450.3 516.5h8.4M455.3 506.5h8.4M455.3 515.5h8.4M461.3 503.5h8.4M461.3 511.5h8.4M466.3 500.5h8.4M466.3 509.5h8.4M472.3 498.5h8.4M472.3 507.5h8.4M477.3 501.5h8.4M477.3 510.5h8.4M483.3 508.5h8.4M483.3 516.5h8.4M488.3 512.5h8.4M488.3 521.5h8.4M494.3 514.5h8.4M494.3 523.5h8.4M499.3 516.5h8.4M499.3 524.5h8.4M505.3 518.5h8.4M505.3 526.5h8.4M510.3 520.5h8.4M510.3 528.5h8.4M516.3 522.5h8.4M516.3 530.5h8.4M522.3 524.5h8.4M522.3 532.5h8.4M527.3 526.5h8.4M527.3 534.5h8.4M533.3 527.5h8.4M533.3 536.5h8.4M538.3 528.5h8.4M538.3 536.5h8.4M544.3 528.5h8.4M544.3 536.5h8.4M549.3 528.5h8.4M549.3 536.5h8.4M555.3 527.5h8.4M555.3 535.5h8.4M560.3 528.5h8.4M560.3 536.5h8.4M566.3 530.5h8.4M566.3 538.5h8.4M571.3 531.5h8.4M571.3 539.5h8.4M577.3 531.5h8.4M577.3 539.5h8.4M582.3 531.5h8.4M582.3 539.5h8.4M588.3 531.5h8.4M588.3 539.5h8.4M593.3 532.5h8.4M593.3 540.5h8.4M599.3 532.5h8.4M599.3 540.5h8.4M604.3 532.5h8.4M604.3 541.5h8.4M610.3 533.5h8.4M610.3 541.5h8.4M615.3 533.5h8.4M615.3 542.5h8.4M621.3 533.5h8.4M621.3 542.5h8.4M626.3 533.5h8.4M626.3 542.5h8.4M632.3 529.5h8.4M632.3 540.5h8.4M637.3 525.5h8.4M637.3 537.5h8.4M643.3 520.5h8.4M643.3 534.5h8.4M648.3 511.5h8.4M648.3 527.5h8.4M654.3 504.5h8.4M654.3 522.5h8.4M659.3 502.5h8.4M659.3 519.5h8.4M665.3 496.5h8.4M665.3 514.5h8.4M670.3 488.5h8.4M670.3 506.5h8.4M676.3 482.5h8.4M676.3 500.5h8.4M681.3 473.5h8.4M681.3 490.5h8.4M687.3 461.5h8.4M687.3 480.5h8.4M692.3 447.5h8.4M692.3 468.5h8.4M698.3 430.5h8.4M698.3 454.5h8.4M703.3 417.5h8.4M703.3 443.5h8.4M709.3 408.5h8.4M709.3 435.5h8.4M714.3 388.5h8.4M714.3 417.5h8.4M720.3 363.5h8.4M720.3 392.5h8.4M725.3 338.5h8.4M725.3 368.5h8.4"/>
<path class="thick r" d="M96.5 -139.6 L102.0 -104.3 L107.5 -69.0 L113.0 -34.0 L118.5 -0.5 L124.0 33.0 L129.5 68.2 L135.0 110.2 L140.5 138.6 L146.0 167.7 L151.5 206.2 L157.0 234.2 L162.5 256.1 L168.1 275.1 L173.6 285.3 L179.1 295.6 L184.6 311.2 L190.1 327.7 L195.6 338.3 L201.1 345.8 L206.6 354.4 L212.1 364.8 L217.6 372.0 L223.1 379.8 L228.6 388.5 L234.1 397.4 L239.6 404.5 L245.2 409.3 L250.7 413.2 L256.2 415.6 L261.7 419.2 L267.2 423.9 L272.7 432.0 L278.2 441.6 L283.7 447.7 L289.2 450.0 L294.7 453.1 L300.2 457.6 L305.7 460.8 L311.2 464.2 L316.7 467.5 L322.3 470.9 L327.8 475.0 L333.3 477.1 L338.8 476.0 L344.3 476.8 L349.8 479.9 L355.3 484.7 L360.8 489.3 L366.3 492.5 L371.8 494.7 L377.3 496.7 L382.8 499.4 L388.3 502.5 L393.8 503.8 L399.3 504.5 L404.9 505.0 L410.4 504.5 L415.9 505.2 L421.4 507.4 L426.9 508.0 L432.4 508.3 L437.9 508.3 L443.4 510.1 L448.9 511.7 L454.4 512.2 L459.9 510.8 L465.4 507.5 L470.9 504.8 L476.4 503.1 L482.0 506.0 L487.5 512.4 L493.0 517.1 L498.5 519.2 L504.0 520.6 L509.5 522.5 L515.0 524.4 L520.5 526.6 L526.0 528.7 L531.5 530.5 L537.0 532.1 L542.5 532.5 L548.0 532.9 L553.5 532.5 L559.1 531.8 L564.6 532.4 L570.1 534.6 L575.6 535.6 L581.1 535.7 L586.6 535.1 L592.1 535.7 L597.6 536.5 L603.1 536.8 L608.6 537.0 L614.1 537.5 L619.6 538.3 L625.1 538.0 L630.6 537.7 L636.1 535.0 L641.7 531.7 L647.2 527.6 L652.7 519.9 L658.2 513.7 L663.7 511.0 L669.2 505.4 L674.7 497.5 L680.2 491.7 L685.7 482.0 L691.2 471.0 L696.7 458.0 L702.2 442.9 L707.7 430.9 L713.2 422.1 L718.8 403.0 L724.3 378.0 L729.8 353.4"/>
<path class="dot r" d="M173.0 60.0 L174.4 88.1 L175.7 117.4 L177.1 144.6 L178.5 166.5 L179.9 183.4 L181.2 198.4 L182.6 211.9 L184.0 224.0 L185.3 234.9 L186.7 244.8 L188.1 253.7 L189.5 261.2 L190.8 268.0 L192.2 274.6 L193.6 280.9 L195.0 287.0 L196.3 292.8 L197.7 298.6 L199.1 304.2 L200.4 309.5 L201.8 314.5 L203.2 319.2 L204.6 323.8 L205.9 328.0 L207.3 332.0 L208.7 335.6 L210.0 339.0 L211.4 342.2 L212.8 345.2 L214.2 348.2 L215.5 351.2 L216.9 354.1 L218.3 357.0 L219.7 359.8 L221.0 362.5 L222.4 364.8 L223.8 366.9 L225.1 368.8 L226.5 370.5 L227.9 372.2 L229.3 374.0 L230.6 375.9 L232.0 377.9 L233.4 380.0 L234.7 382.1 L236.1 384.1 L237.5 386.0 L238.9 387.7 L240.2 389.4 L241.6 391.0 L243.0 392.6 L244.4 394.1 L245.7 395.7 L247.1 397.3 L248.5 398.9 L249.8 400.5 L251.2 402.0 L252.6 403.6 L254.0 405.2 L255.3 406.8 L256.7 408.3 L258.1 409.9 L259.4 411.4 L260.8 412.9 L262.2 414.4 L263.6 415.9 L264.9 417.4 L266.3 418.9 L267.7 420.4 L269.1 421.8 L270.4 423.3 L271.8 424.7 L273.2 426.1 L274.5 427.5 L275.9 428.9 L277.3 430.3 L278.7 431.6 L280.0 432.9 L281.4 434.2 L282.8 435.5 L284.1 436.8 L285.5 437.9 L286.9 439.1 L288.3 440.2 L289.6 441.3 L291.0 442.4 L292.4 443.5 L293.8 444.6 L295.1 445.6 L296.5 446.7 L297.9 447.7 L299.2 448.7 L300.6 449.8 L302.0 450.8 L303.4 451.8 L304.7 452.8 L306.1 453.8 L307.5 454.8 L308.8 455.8 L310.2 456.8 L311.6 457.8 L313.0 458.8 L314.3 459.8 L315.7 460.8 L317.1 461.8 L318.5 462.8 L319.8 463.8 L321.2 464.8 L322.6 465.9 L323.9 466.9 L325.3 467.8 L326.7 468.8 L328.1 469.7 L329.4 470.6 L330.8 471.5 L332.2 472.3 L333.5 473.2 L334.9 474.0 L336.3 474.7 L337.7 475.5 L339.0 476.3 L340.4 477.0 L341.8 477.8 L343.2 478.5 L344.5 479.2 L345.9 479.9 L347.3 480.6 L348.6 481.3 L350.0 482.0 L351.4 482.7 L352.8 483.4 L354.1 484.1 L355.5 484.8 L356.9 485.5 L358.2 486.2 L359.6 487.0 L361.0 487.7 L362.4 488.4 L363.7 489.0 L365.1 489.7 L366.5 490.4 L367.8 491.0 L369.2 491.7 L370.6 492.3 L372.0 492.9 L373.3 493.5 L374.7 494.1 L376.1 494.6 L377.5 495.1 L378.8 495.6 L380.2 496.1 L381.6 496.5 L382.9 497.0 L384.3 497.4 L385.7 497.8 L387.1 498.2 L388.4 498.6 L389.8 499.0 L391.2 499.4 L392.5 499.8 L393.9 500.2 L395.3 500.6 L396.7 500.9 L398.0 501.3 L399.4 501.6 L400.8 502.0 L402.2 502.3 L403.5 502.6 L404.9 502.9 L406.3 503.2 L407.6 503.6 L409.0 503.8 L410.4 504.1 L411.8 504.4 L413.1 504.7 L414.5 505.0 L415.9 505.2 L417.2 505.5 L418.6 505.8 L420.0 506.0 L421.4 506.2 L422.7 506.5 L424.1 506.7 L425.5 506.9 L426.9 507.1 L428.2 507.3 L429.6 507.5 L431.0 507.7 L432.3 507.9 L433.7 508.1 L435.1 508.3 L436.5 508.5 L437.8 508.7 L439.2 508.8 L440.6 509.0 L441.9 509.2 L443.3 509.4 L444.7 509.5 L446.1 509.7 L447.4 509.9 L448.8 510.0 L450.2 510.2 L451.6 510.4 L452.9 510.6 L454.3 510.7 L455.7 510.9 L457.0 511.1 L458.4 511.3 L459.8 511.5 L461.2 511.7 L462.5 511.8 L463.9 512.0 L465.3 512.2 L466.6 512.4 L468.0 512.5 L469.4 512.7 L470.8 512.9 L472.1 513.1 L473.5 513.3 L474.9 513.5 L476.3 513.7 L477.6 513.9 L479.0 514.2 L480.4 514.4 L481.7 514.7 L483.1 515.0 L484.5 515.3 L485.9 515.6 L487.2 515.9 L488.6 516.3 L490.0 516.6 L491.3 516.9 L492.7 517.3 L494.1 517.6 L495.5 517.9 L496.8 518.3 L498.2 518.6 L499.6 518.9 L501.0 519.2 L502.3 519.5 L503.7 519.8 L505.1 520.2 L506.4 520.5 L507.8 520.8 L509.2 521.1 L510.6 521.4 L511.9 521.7 L513.3 522.1 L514.7 522.4 L516.0 522.7 L517.4 523.0 L518.8 523.4 L520.2 523.7 L521.5 524.0 L522.9 524.3 L524.3 524.6 L525.7 525.0 L527.0 525.3 L528.4 525.6 L529.8 525.9 L531.1 526.2 L532.5 526.5 L533.9 526.8 L535.3 527.1 L536.6 527.4 L538.0 527.7 L539.4 528.0 L540.7 528.2 L542.1 528.5 L543.5 528.8 L544.9 529.1 L546.2 529.3 L547.6 529.6 L549.0 529.8 L550.3 530.1 L551.7 530.3 L553.1 530.6 L554.5 530.8 L555.8 531.1 L557.2 531.4 L558.6 531.7 L560.0 531.9 L561.3 532.2 L562.7 532.5 L564.1 532.7 L565.4 533.0 L566.8 533.2 L568.2 533.5 L569.6 533.7 L570.9 533.9 L572.3 534.0 L573.7 534.2 L575.0 534.3 L576.4 534.4 L577.8 534.5 L579.2 534.5 L580.5 534.5 L581.9 534.5 L583.3 534.5 L584.7 534.4 L586.0 534.4 L587.4 534.3 L588.8 534.2 L590.1 534.1 L591.5 534.0 L592.9 533.9 L594.3 533.8 L595.6 533.7 L597.0 533.5 L598.4 533.4 L599.7 533.2 L601.1 533.1 L602.5 532.9 L603.9 532.7 L605.2 532.4 L606.6 532.1 L608.0 531.8 L609.4 531.4 L610.7 531.0 L612.1 530.6 L613.5 530.2 L614.8 529.8 L616.2 529.4 L617.6 528.9 L619.0 528.5 L620.3 528.1 L621.7 527.6 L623.1 527.1 L624.4 526.6 L625.8 526.1 L627.2 525.5 L628.6 524.9 L629.9 524.2 L631.3 523.5 L632.7 522.7 L634.1 521.9 L635.4 521.1 L636.8 520.2 L638.2 519.2 L639.5 518.3 L640.9 517.2 L642.3 516.1 L643.7 515.0 L645.0 513.8 L646.4 512.6 L647.8 511.3 L649.1 510.1 L650.5 508.7 L651.9 507.3 L653.3 505.8 L654.6 504.2 L656.0 502.6 L657.4 500.9 L658.8 499.1 L660.1 497.3 L661.5 495.5 L662.9 493.6 L664.2 491.6 L665.6 489.6 L667.0 487.5 L668.4 485.3 L669.7 483.0 L671.1 480.7 L672.5 478.3 L673.8 475.9 L675.2 473.4 L676.6 470.9 L678.0 468.3 L679.3 465.7 L680.7 463.0 L682.1 460.3 L683.5 457.4 L684.8 454.5 L686.2 451.6 L687.6 448.6 L688.9 445.6 L690.3 442.6 L691.7 439.6 L693.1 436.7 L694.4 433.7 L695.8 430.8 L697.2 427.9 L698.5 425.0 L699.9 422.0 L701.3 419.1 L702.7 416.1 L704.0 413.0 L705.4 409.9 L706.8 406.7 L708.2 403.4 L709.5 400.0 L710.9 396.5 L712.3 392.8 L713.6 389.2 L715.0 385.6 L716.4 382.0 L717.8 378.6 L719.1 375.3 L720.5 372.0"/>
</g>
<g class="grid">
<path d="M169.50 540.5 V60.5"/>
<path d="M238.50 540.5 V60.5"/>
<path d="M307.50 540.5 V60.5"/>
<path d="M376.50 540.5 V60.5"/>
<path d="M444.50 540.5 V60.5"/>
<path d="M513.50 540.5 V60.5"/>
<path d="M582.50 540.5 V60.5"/>
<path d="M651.50 540.5 V60.5"/>
<path d="M100.5 502.50 H720.5"/>
<path d="M100.5 446.50 H720.5"/>
<path d="M100.5 389.50 H720.5"/>
<path d="M100.5 333.50 H720.5"/>
<path d="M100.5 276.50 H720.5"/>
<path d="M100.5 220.50 H720.5"/>
<path d="M100.5 163.50 H720.5"/>
<path d="M100.5 107.50 H720.5"/>
</g>
<rect x="100.5" y="60.5" width="620.0" height="480.0" fill="none" stroke="#000" stroke-width="1.39"/>
<g class="tick">
<path d="M100.50 540.5v-5.5M100.50 60.5v5.5"/>
<path d="M169.50 540.5v-5.5M169.50 60.5v5.5"/>
<path d="M238.50 540.5v-5.5M238.50 60.5v5.5"/>
<path d="M307.50 540.5v-5.5M307.50 60.5v5.5"/>
<path d="M376.50 540.5v-5.5M376.50 60.5v5.5"/>
<path d="M444.50 540.5v-5.5M444.50 60.5v5.5"/>
<path d="M513.50 540.5v-5.5M513.50 60.5v5.5"/>
<path d="M582.50 540.5v-5.5M582.50 60.5v5.5"/>
<path d="M651.50 540.5v-5.5M651.50 60.5v5.5"/>
<path d="M720.50 540.5v-5.5M720.50 60.5v5.5"/>
<path d="M100.5 502.50h5.5M720.5 502.50h-5.5"/>
<path d="M100.5 446.50h5.5M720.5 446.50h-5.5"/>
<path d="M100.5 389.50h5.5M720.5 389.50h-5.5"/>
<path d="M100.5 333.50h5.5M720.5 333.50h-5.5"/>
<path d="M100.5 276.50h5.5M720.5 276.50h-5.5"/>
<path d="M100.5 220.50h5.5M720.5 220.50h-5.5"/>
<path d="M100.5 163.50h5.5M720.5 163.50h-5.5"/>
<path d="M100.5 107.50h5.5M720.5 107.50h-5.5"/>
</g>
<text class="t" x="99.40" y="557.6" text-anchor="middle" textLength="41.4" lengthAdjust="spacingAndGlyphs">5500</text>
<text class="t" x="168.40" y="557.6" text-anchor="middle" textLength="41.4" lengthAdjust="spacingAndGlyphs">6000</text>
<text class="t" x="237.40" y="557.6" text-anchor="middle" textLength="41.4" lengthAdjust="spacingAndGlyphs">6500</text>
<text class="t" x="306.40" y="557.6" text-anchor="middle" textLength="41.4" lengthAdjust="spacingAndGlyphs">7000</text>
<text class="t" x="375.40" y="557.6" text-anchor="middle" textLength="41.4" lengthAdjust="spacingAndGlyphs">7500</text>
<text class="t" x="443.40" y="557.6" text-anchor="middle" textLength="41.4" lengthAdjust="spacingAndGlyphs">8000</text>
<text class="t" x="512.40" y="557.6" text-anchor="middle" textLength="41.4" lengthAdjust="spacingAndGlyphs">8500</text>
<text class="t" x="581.40" y="557.6" text-anchor="middle" textLength="41.4" lengthAdjust="spacingAndGlyphs">9000</text>
<text class="t" x="650.40" y="557.6" text-anchor="middle" textLength="41.4" lengthAdjust="spacingAndGlyphs">9500</text>
<text class="t" x="719.50" y="557.6" text-anchor="middle" textLength="52" lengthAdjust="spacingAndGlyphs">10000</text>
<text class="t" x="94.2" y="507.00" text-anchor="end" textLength="25.2" lengthAdjust="spacingAndGlyphs">0.3</text>
<text class="t" x="94.2" y="451.00" text-anchor="end" textLength="25.2" lengthAdjust="spacingAndGlyphs">0.4</text>
<text class="t" x="94.2" y="394.00" text-anchor="end" textLength="25.2" lengthAdjust="spacingAndGlyphs">0.5</text>
<text class="t" x="94.2" y="338.00" text-anchor="end" textLength="25.2" lengthAdjust="spacingAndGlyphs">0.6</text>
<text class="t" x="94.2" y="281.00" text-anchor="end" textLength="25.2" lengthAdjust="spacingAndGlyphs">0.7</text>
<text class="t" x="94.2" y="225.00" text-anchor="end" textLength="25.2" lengthAdjust="spacingAndGlyphs">0.8</text>
<text class="t" x="94.2" y="168.00" text-anchor="end" textLength="25.2" lengthAdjust="spacingAndGlyphs">0.9</text>
<text class="t" x="94.2" y="112.00" text-anchor="end" textLength="25.2" lengthAdjust="spacingAndGlyphs">1.0</text>
<text class="t" x="99.5" y="55.3" textLength="54" lengthAdjust="spacingAndGlyphs">1e−17</text>
<text class="big" x="409.2" y="53.4" text-anchor="middle">108923707</text>
<text class="t" x="410" y="575.6" text-anchor="middle">Wavelength (A)</text>
<text class="t" transform="translate(58.6 300) rotate(-90)" text-anchor="middle">Flux (erg/s/cm^2/A)</text>
<rect x="602.5" y="70.5" width="108" height="88.7" fill="#fff" stroke="#000" stroke-width="1.39"/>
<path class="b" fill="none" stroke-width="3" d="M615 86.5H646"/>
<text class="leg" x="664.6" y="93.3">044</text>
<path class="g" fill="none" stroke-width="3" d="M615 115.5H646"/>
<text class="leg" x="664.6" y="122.0">066</text>
<path class="r" fill="none" stroke-width="3" d="M615 144.5H646"/>
<text class="leg" x="664.6" y="150.8">116</text>
</svg></body></html>
